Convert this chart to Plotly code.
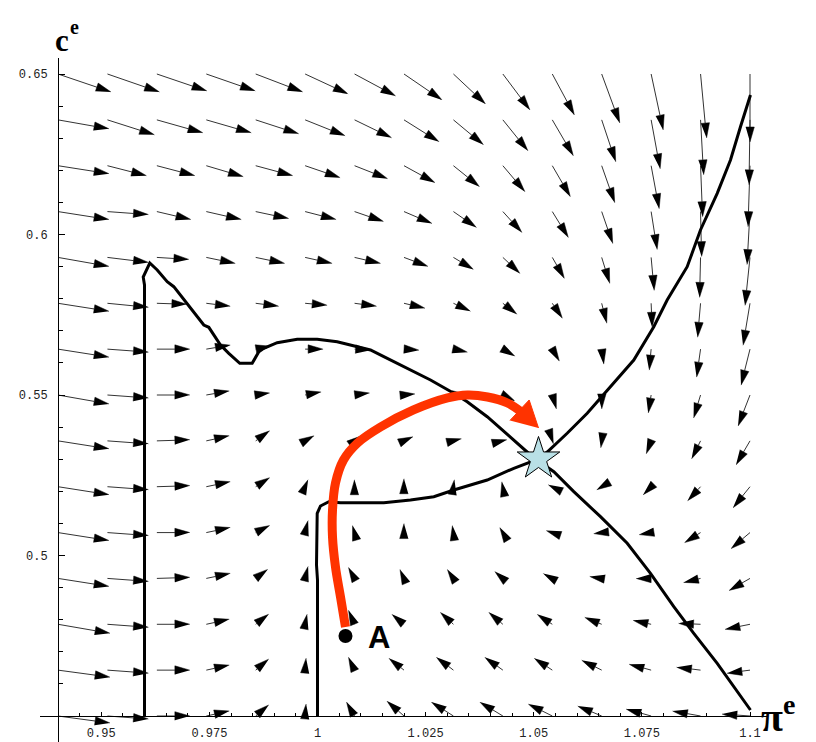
import numpy as np
import plotly.graph_objects as go

# grid of the direction field (pi^e across, c^e up)
GRID_PI = [0.94, 0.95143, 0.96286, 0.97429, 0.98571, 0.99714, 1.00857, 1.02,
           1.03143, 1.04286, 1.05429, 1.06571, 1.07714, 1.08857, 1.1]
GRID_C = [0.45, 0.46429, 0.47857, 0.49286, 0.50714, 0.52143, 0.53571, 0.55,
          0.56429, 0.57857, 0.59286, 0.60714, 0.62143, 0.63571, 0.65]

# field components (rows from c = 0.45 upwards)
FIELD_U = [
    [52, 41, 33, 23, 13, 1, -8, -17, -22, -23, -24, -24, -25, -28, -28],
    [52, 41, 33, 23, 13, 1, -6, -15, -17, -18, -18, -20, -22, -24, -23],
    [52, 41, 33, 23, 13, 2, -6, -12, -13, -14, -15, -17, -18, -22, -25],
    [51, 41, 33, 24, 12, 3, -6, -4, -6, -8, -9, -12, -15, -17, -21],
    [51, 41, 33, 24, 14, 3, -2, 0, -1, -3, -6, -8, -12, -16, -19],
    [51, 41, 33, 24, 14, 3, 0, 0, 1, -1, -4, -5, -8, -13, -17],
    [51, 41, 33, 23, 14, 9, 7, 9, 8, 4, 1, -1, -5, -9, -14],
    [51, 41, 33, 23, 14, 16, 15, 11, 14, 12, 4, 0, -3, -7, -12],
    [51, 41, 33, 24, 15, 18, 16, 15, 14, 12, 7, 2, -2, -4, -9],
    [51, 41, 30, 24, 23, 22, 22, 21, 17, 14, 10, 5, 1, -3, -7],
    [51, 41, 32, 29, 29, 27, 26, 24, 20, 17, 12, 8, 3, -1, -5],
    [51, 41, 34, 35, 33, 31, 29, 28, 23, 19, 16, 11, 6, 1, -3],
    [51, 39, 38, 37, 37, 35, 33, 31, 26, 22, 18, 13, 8, 2, -2],
    [51, 47, 46, 45, 43, 40, 37, 35, 30, 25, 21, 14, 9, 3, -1],
    [53, 52, 50, 49, 47, 43, 41, 38, 32, 27, 22, 18, 12, 6, 0],
]
FIELD_V = [
    [-7, -3, 0, 5, 11, 12, 14, 15, 14, 14, 12, 10, 7, 5, 2],
    [-7, -3, 0, 5, 11, 12, 13, 12, 13, 13, 12, 10, 6, 3, -3],
    [-9, -3, 0, 5, 10, 10, 14, 10, 12, 12, 10, 7, 4, 1, -5],
    [-8, -3, 1, 5, 9, 12, 11, 9, 9, 7, 5, 2, 0, -4, -12],
    [-8, -3, 0, 5, 7, 12, 7, 9, 7, 5, 2, -1, -2, -10, -16],
    [-8, -3, 1, 5, 9, 7, 7, 8, 7, 5, 2, -3, -8, -14, -21],
    [-8, -3, 1, 5, 10, 5, 5, 4, 2, 1, -3, -7, -13, -18, -24],
    [-9, -3, 0, 4, 2, 3, 2, 1, 0, -6, -14, -14, -18, -23, -31],
    [-8, -3, 0, 4, 3, 0, -1, -1, -3, -7, -12, -15, -21, -28, -36],
    [-8, -4, -1, -3, -3, -2, -3, -5, -8, -11, -15, -20, -24, -34, -42],
    [-9, -5, -2, -6, -6, -6, -6, -9, -12, -16, -21, -26, -33, -40, -48],
    [-8, -3, -8, -8, -7, -8, -10, -12, -16, -21, -26, -32, -38, -45, -53],
    [-8, -10, -10, -11, -10, -12, -13, -17, -21, -26, -31, -37, -43, -51, -61],
    [-9, -15, -13, -13, -14, -16, -18, -22, -25, -31, -36, -42, -49, -55, -65],
    [-18, -18, -17, -17, -18, -20, -22, -26, -30, -36, -41, -49, -56, -64, -68],
]

# curve through the left boundary, the hump and the falling branch
CURVE_A_PI = [0.96, 0.96, 0.9597, 0.96122, 0.96294, 0.96525, 0.96677, 0.96948,
              0.97103, 0.97371, 0.97487, 0.97757, 0.97949, 0.98203, 0.9849,
              0.98643, 0.98758, 0.99068, 0.99531, 0.99993, 1.00455, 1.00918,
              1.01225, 1.01533, 1.01843, 1.0215, 1.02613, 1.03151, 1.03461,
              1.03924, 1.04539, 1.04925, 1.0511, 1.05464, 1.05926, 1.06543,
              1.07161, 1.07699, 1.08238, 1.087, 1.09242, 1.09626, 1.10011]
CURVE_A_C = [0.45, 0.58427, 0.58676, 0.59112, 0.58894, 0.5853, 0.58374, 0.57907,
             0.57648, 0.57181, 0.57109, 0.56558, 0.56299, 0.55988, 0.55988,
             0.56349, 0.56455, 0.56629, 0.56735, 0.56735, 0.5666, 0.56505,
             0.56402, 0.56193, 0.55988, 0.55779, 0.55467, 0.55053, 0.54791,
             0.54324, 0.53598, 0.53131, 0.52944, 0.52611, 0.51988, 0.51209,
             0.5038, 0.49445, 0.48405, 0.47576, 0.46642, 0.45913, 0.45187]

# curve up the pi = 1 line and along the rising branch
CURVE_B_PI = [1.0, 1.0, 0.99977, 0.99993, 1.00069, 1.00261, 1.00532, 1.01533,
              1.0215, 1.02689, 1.03151, 1.03924, 1.04539, 1.0511, 1.05311,
              1.05773, 1.06236, 1.06698, 1.07313, 1.07776, 1.08085, 1.08548,
              1.08855, 1.09242, 1.09549, 1.0978, 1.10011]
CURVE_B_C = [0.45, 0.49237, 0.49704, 0.51315, 0.51542, 0.51676, 0.51645, 0.51645,
             0.51729, 0.51832, 0.5204, 0.52352, 0.52717, 0.53006, 0.53224,
             0.53807, 0.5443, 0.55156, 0.5609, 0.57128, 0.5796, 0.58997,
             0.6014, 0.61283, 0.62321, 0.63358, 0.64346]

# red path from A to the steady state
PATH_PI = [1.00647, 1.00532, 1.00416, 1.00347, 1.00347, 1.00416, 1.00601,
           1.00925, 1.01457, 1.0222, 1.03006, 1.03468, 1.03931, 1.04393, 1.04717]
PATH_C = [0.47773, 0.48707, 0.49642, 0.50576, 0.51417, 0.52259, 0.52975,
          0.53505, 0.54003, 0.54533, 0.54907, 0.55, 0.54938, 0.54751, 0.5447]
PATH_TIP = (1.0511, 0.53972)

STAR = (1.0511, 0.5301)
POINT_A = (1.00647, 0.47492)

# the page puts the figure 8px in from the top-left corner
W, H = 808, 734
MARGIN = dict(l=32, r=48, t=50, b=0)
X_RANGE = [0.935838, 1.104162]
Y_RANGE = [0.4419, 0.654984]
SX = (W - MARGIN["l"] - MARGIN["r"]) / (X_RANGE[1] - X_RANGE[0])
SY = (H - MARGIN["t"] - MARGIN["b"]) / (Y_RANGE[1] - Y_RANGE[0])
HEAD_LEN, HEAD_HALF = 15, 4.3


def to_screen(p, c):
    return (p - X_RANGE[0]) * SX, (c - Y_RANGE[0]) * SY


def to_data(x, y):
    return X_RANGE[0] + x / SX, Y_RANGE[0] + y / SY


def head(tip, ex, ey, length, half):
    hx, hy = tip
    bx, by = hx - length * ex, hy - length * ey
    pts = [(hx, hy), (bx - half * ey, by + half * ex), (bx + half * ey, by - half * ex)]
    return [to_data(x, y) for x, y in pts], (bx, by)


shaft_x, shaft_y, head_x, head_y = [], [], [], []
for j, c in enumerate(GRID_C):
    for i, p in enumerate(GRID_PI):
        u, v = FIELD_U[j][i], FIELD_V[j][i]
        n = np.hypot(u, v)
        if n == 0:
            continue
        tx, ty = to_screen(p, c)
        tri, (bx, by) = head((tx + u, ty + v), u / n, v / n, HEAD_LEN, HEAD_HALF)
        if n > HEAD_LEN:
            bp, bc = to_data(bx, by)
            shaft_x += [p, bp, None]
            shaft_y += [c, bc, None]
        for dp, dc in tri:
            head_x.append(dp)
            head_y.append(dc)
        head_x.append(None)
        head_y.append(None)

fig = go.Figure()
fig.add_trace(go.Scatter(x=shaft_x, y=shaft_y, mode="lines",
                         line=dict(color="#333333", width=1), hoverinfo="skip"))
fig.add_trace(go.Scatter(x=head_x, y=head_y, mode="lines", fill="toself",
                         fillcolor="black", line=dict(color="black", width=0.5),
                         hoverinfo="skip"))
for px_, cy_ in [(CURVE_A_PI, CURVE_A_C), (CURVE_B_PI, CURVE_B_C)]:
    fig.add_trace(go.Scatter(x=px_, y=cy_, mode="lines",
                             line=dict(color="black", width=3)))

# red trajectory with its head
fig.add_trace(go.Scatter(x=PATH_PI, y=PATH_C, mode="lines",
                         line=dict(color="#ff3300", width=9, shape="spline")))
lx, ly = to_screen(PATH_PI[-1], PATH_C[-1])
tx, ty = to_screen(*PATH_TIP)
d = np.hypot(tx - lx, ty - ly)
tri, _ = head((tx, ty), (tx - lx) / d, (ty - ly) / d, 26, 14)
fig.add_trace(go.Scatter(x=[q[0] for q in tri], y=[q[1] for q in tri], mode="lines",
                         fill="toself", fillcolor="#ff3300",
                         line=dict(color="#ff3300", width=1)))

fig.add_trace(go.Scatter(x=[STAR[0]], y=[STAR[1]], mode="markers",
                         marker=dict(symbol="star", size=32, color="#b9e0e6",
                                     line=dict(color="black", width=1))))
fig.add_trace(go.Scatter(x=[POINT_A[0]], y=[POINT_A[1]], mode="markers",
                         marker=dict(size=14, color="black")))

fig.add_annotation(x=1.0143, y=0.4746, text="<b>A</b>", showarrow=False,
                   font=dict(family="Liberation Sans", size=31, color="black"))
# axis names: c^e at the top left, pi^e at the bottom right
fig.add_annotation(x=0.0185, y=1.0541, xref="paper", yref="paper",
                   text="<b>c</b>", showarrow=False,
                   font=dict(family="Liberation Serif", size=31, color="black"))
fig.add_annotation(x=0.0385, y=1.0643, xref="paper", yref="paper",
                   text="<b>e</b>", showarrow=False,
                   font=dict(family="Liberation Serif", size=20, color="black"))
fig.add_annotation(x=0.987, y=0.0, xref="paper", yref="paper", xanchor="left",
                   text="<b>π<sup>e</sup></b>", showarrow=False,
                   font=dict(family="Liberation Serif", size=40, color="black"))

tick_font = dict(family="Liberation Mono", size=12, color="#222222")
fig.update_layout(
    width=W, height=H, margin=MARGIN, showlegend=False,
    plot_bgcolor="white", paper_bgcolor="white",
    xaxis=dict(range=X_RANGE, anchor="free", position=26 / 684,
               showline=True, linecolor="black", linewidth=1,
               showgrid=False, zeroline=False,
               tickmode="array", tickvals=[0.95, 0.975, 1, 1.025, 1.05, 1.075, 1.1],
               ticktext=["0.95", "0.975", "1", "1.025", "1.05", "1.075", "1.1"],
               ticks="inside", ticklen=4, tickcolor="black", tickfont=tick_font,
               ticklabelstandoff=6,
               minor=dict(ticks="inside", ticklen=3, dtick=0.005, tick0=0.94,
                          tickcolor="black")),
    yaxis=dict(range=Y_RANGE, anchor="free", position=18 / 728,
               showline=True, linecolor="black", linewidth=1,
               showgrid=False, zeroline=False,
               tickmode="array", tickvals=[0.5, 0.55, 0.6, 0.65],
               ticktext=["0.5", "0.55", "0.6", "0.65"],
               ticks="inside", ticklen=6, tickcolor="black", tickfont=tick_font,
               ticklabelstandoff=8,
               minor=dict(ticks="inside", ticklen=4, dtick=0.01, tick0=0.45,
                          tickcolor="black")),
)

fig.write_html("out.html")
